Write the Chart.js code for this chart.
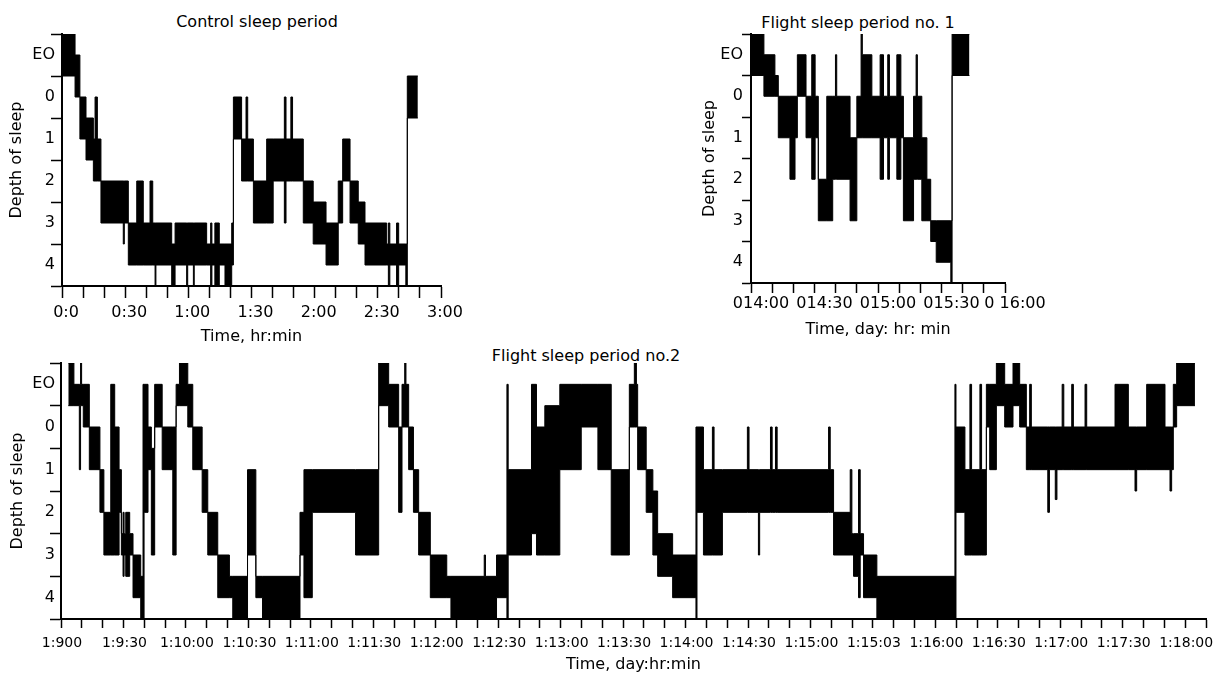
<!DOCTYPE html>
<html>
<head>
<meta charset="utf-8">
<script src="https://cdn.jsdelivr.net/npm/chart.js@4.4.1/dist/chart.umd.min.js"></script>
<style>
  html, body { margin: 0; padding: 0; background: #fff; }
  body { width: 1213px; height: 674px; position: relative; overflow: hidden; font-family: "DejaVu Sans", sans-serif; color: #000; }
  canvas { position: absolute; }
  .panel-title { position: absolute; transform: translate(-50%, -50%); font-size: 16px; white-space: nowrap; }
</style>
</head>
<body>
<div class="panel-title" style="left:257px;top:21px">Control sleep period</div>
<div class="panel-title" style="left:858px;top:22px">Flight sleep period no. 1</div>
<div class="panel-title" style="left:586px;top:355px">Flight sleep period no.2</div>

<canvas id="ctlChart" width="470" height="346" style="left:0;top:0"></canvas>
<canvas id="f1Chart" width="359" height="339" style="left:691px;top:0"></canvas>
<canvas id="f2Chart" width="1213" height="331" style="left:0;top:343px"></canvas>

<script>
/* =============================
   DATA
   time = minutes from start of the axis
   shallow / deep = the two edges of the trace (depth of sleep,
   EO = -1, half steps are the band boundaries)
============================= */
const depthLabels = ["EO", "0", "1", "2", "3", "4"];

// control sleep period
const ctlTickLabels = ["0:0", "0:30", "1:00", "1:30", "2:00", "2:30", "3:00"];
const ctlTime = [0, 6.2, 8.5, 11.4, 14.9, 15.7, 16.8, 18.5, 29.1, 29.6, 31.5, 35.5, 38.6, 41.8, 43.1, 44.2, 44.6, 52.1, 53.7, 59.2,
  59.7, 62.4, 62.8, 68.7, 70.6, 71.2, 72.6, 74.7, 77.4, 80.6, 81.4, 85.3, 87.4, 88.2, 90.9, 97.2, 100.3, 105.6, 106.4, 108.7,
  109.5, 114.6, 119.3, 125.4, 131.2, 133.3, 136.8, 140.7, 143.9, 154.2, 155, 155.7, 158.9, 159.9, 163.3, 164, 169];
const ctlShallow = [-1.5, -1, 0, 0.5, 1, 0, 1, 2, 2, 2, 3, 2, 3, 2, 3, 3, 3, 3.5, 3, 3,
  3, 3, 3, 3.5, 3, 3.5, 3, 3.5, 3.5, 3, 0, 1, 0, 1, 2, 1, 1, 0, 1, 0,
  1, 2, 2.5, 3, 2, 1, 2, 2.5, 3, 3.5, 3, 3.5, 3, 3.5, 3.5, -0.5, -0.5];
const ctlDeep = [-0.5, 0, 1, 1.5, 2, 2, 2, 3, 3.5, 3, 4, 4, 4, 4, 4, 4.5, 4, 4.5, 4, 4.5,
  4, 4.5, 4, 4, 4.5, 4, 4.5, 4, 4.5, 4, 1, 2, 2, 2, 3, 3, 2, 3, 2, 2,
  2, 3, 3.5, 4, 3, 2, 3, 3.5, 4, 4, 4.5, 4, 4.5, 4, 4.5, 0.5, 0.5];

// flight sleep period no. 1
const f1TickLabels = ["014:00", "014:30", "015:00", "015:30", "0 16:00"];
const f1Time = [0, 6.1, 11.3, 12.9, 18.4, 20.8, 21.9, 26, 28.7, 30.3, 31.8, 35.8, 38.6, 39.9, 40.5, 46.8, 50, 52, 52.6, 57.1,
  61, 62.6, 64.6, 65.4, 68.9, 70.8, 72, 76.8, 78, 78.6, 80.7, 83.1, 84.9, 87.5, 94.4, 95, 103.2];
const f1Shallow = [-1.5, -1, -0.5, 0, 0, 0, -1, 0, -1, 0, 2, 0, 0, -1, 0, 1, 0, -1.5, -1, 0,
  -1, 0, -1, 0, -1, 0, 1, 0, -1, 0, 1, 2, 3, 3, 3, -1.5, -1.5];
const f1Deep = [-0.5, 0, 0, 1, 2, 1, 0, 1, 2, 1, 3, 3, 2, 2, 2, 3, 1, 1, 1, 1,
  2, 1, 2, 1, 2, 1, 3, 2, 2, 2, 3, 3, 3.5, 4, 4.5, -0.5, -0.5];

// flight sleep period no. 2
const f2TickLabels = ["1:900", "1:9:30", "1:10:00", "1:10:30", "1:11:00", "1:11:30", "1:12:00", "1:12:30", "1:13:00", "1:13:30",
  "1:14:00", "1:14:30", "1:15:00", "1:15:03", "1:16:00", "1:16:30", "1:17:00", "1:17:30", "1:18:00"];
const f2Time = [3.5, 6.2, 8.8, 9.4, 9.9, 10.7, 13.6, 18.7, 20.6, 23.9, 25.8, 27.9, 29, 29.8, 30.3, 31.1, 33, 34.6, 38.3, 39.4,
  39.9, 41.8, 43.4, 45, 48.6, 53.7, 55.3, 56.9, 60.9, 63.3, 67.8, 70.5, 75.3, 80.9, 82.5, 89.6, 93.6, 96.8, 114.8, 116.7,
  120.7, 141.5, 152.6, 157.4, 162.2, 163.8, 165.1, 165.7, 167, 169.3, 171.8, 177.4, 185.3, 187.3, 203.3, 203.9, 209.2, 214.2, 214.8, 226,
  228.4, 232.4, 239.6, 249.9, 257.9, 264.3, 273, 275.4, 276.4, 277, 281.1, 284.3, 286.6, 293.8, 305, 305.5, 308.6, 312.9, 313.7, 317.7,
  329.7, 330.5, 335, 335.6, 340.8, 341.6, 343.2, 344, 368.7, 369.5, 371.1, 379.1, 379.9, 380.7, 383.1, 383.9, 385.5, 391.9, 429.4, 429.9,
  434.2, 436.6, 437.4, 441.4, 442.2, 444.5, 446.1, 449.3, 453.3, 457.3, 460.5, 463.7, 465.3, 466.1, 474, 474.8, 477.6, 478.4, 480.9, 481.7,
  485.5, 486.3, 491.9, 492.7, 506.3, 512.7, 515.9, 516.7, 521.5, 530.3, 532.7, 533.5, 534.3, 535.9, 544.7];
const f2Shallow = [-1.5, -1, -1, -1.5, -1, -1, 0, 1, 2, -1, 0, 1, 2.5, 2, 2.5, 2, 2.5, 3, 3.5, -1,
  -1, 0, 0.5, -1, 0, 0, -1, -1.5, -1, 0, 1, 2, 3, 3.5, 3.5, 1, 3.5, 3.5, 2, 1,
  1, 1, -1.5, -1, 0, -1, -1.5, -1, 0, 1, 2, 3, 3.5, 3.5, 3, 3.5, 3, -1, 1, -1,
  0, -0.5, -1, -1, -1, 1, -1, -1.5, -1, 0, 1, 1.5, 2.5, 3, 0, 0, 1, 0, 1, 1,
  0, 1, 1, 1, 0, 1, 0, 1, 0, 1, 2, 1, 2.5, 2.5, 1, 2.5, 3, 3.5, -1, 0,
  1, -1, 1, -1, 1, -1, -1, -1.5, -1, -1.5, -1, 0, -1, 0, 0, 0, 0, 0, -1, 0,
  -1, 0, -1, 0, -1, 0, 0, 0, -1, 0, 0, 0, -1, -1.5, -1.5];
const f2Deep = [-0.5, -0.5, 1, -0.5, -0.5, 0, 1, 2, 3, 3, 3, 2, 3, 3.5, 3, 3.5, 3, 4, 4.5, 4.5,
  2, 1, 3, 0, 1, 3, -0.5, -0.5, 0, 1, 2, 3, 4, 4, 4.5, 3, 4, 4.5, 3, 4,
  2, 3, -0.5, 0, 2, 0, 0, 0, 1, 2, 3, 4, 4, 4.5, 4.5, 4.5, 4, 4.5, 3, 2.5,
  3, 3, 1, 0, 1, 3, 0, 0, 0, 1, 2, 3, 3.5, 4, 4.5, 2, 3, 3, 3, 2,
  2, 2, 3, 2, 2, 2, 2, 2, 2, 2, 3, 3, 3, 3.5, 4, 3, 4, 4.5, 4.5, 2,
  3, 3, 3, 3, 3, 0, 1, -0.5, 0, -0.5, 0, 1, 1, 1, 2, 1, 1.7, 1, 1, 1,
  1, 1, 1, 1, 1, 1, 1.5, 1, 1, 1, 1.5, 1, 0, -0.5, -0.5];

/* =============================
   PANEL BUILDER
============================= */
const tickFont = { family: "DejaVu Sans", size: 16 };

function makePanel(id, time, shallow, deep, cfg) {
  const edge = vals => time.map((t, i) => ({ x: t, y: vals[i] }));
  const lineStyle = { stepped: true, borderColor: "#000", borderWidth: 1, pointRadius: 0 };

  return new Chart(document.getElementById(id), {
    type: "line",
    data: {
      datasets: [
        { ...lineStyle, data: edge(shallow), fill: false },
        { ...lineStyle, data: edge(deep), fill: "-1", backgroundColor: "#000" }
      ]
    },
    options: {
      responsive: false,
      animation: false,
      events: [],
      layout: { padding: { top: cfg.padTop, right: cfg.padRight, left: 0, bottom: 0 } },
      plugins: { legend: { display: false }, tooltip: { enabled: false } },
      scales: {
        x: {
          type: "linear",
          min: 0,
          max: cfg.xMax,
          afterFit: s => { s.height = cfg.xBox; },
          border: { display: true, color: "#000", width: 2 },
          grid: { drawOnChartArea: false, tickLength: cfg.xTick, tickWidth: 1.5, tickColor: "#000" },
          ticks: {
            stepSize: 10,
            autoSkip: false,
            maxRotation: 0,
            padding: cfg.xPad,
            labelOffset: cfg.labelShift,
            color: "#000",
            font: cfg.xFont || tickFont,
            callback: v => (v % 30 === 0 ? cfg.tickLabels[v / 30] : "")
          },
          title: { display: true, text: cfg.xTitle, color: "#000", font: tickFont, padding: 0 }
        },
        y: {
          type: "linear",
          reverse: true,
          min: -1.5,
          max: 4.5,
          afterFit: s => { s.width = cfg.yBox; },
          border: { display: true, color: "#000", width: 2 },
          grid: {
            drawOnChartArea: false,
            tickLength: cfg.yTick,
            tickWidth: 1.5,
            tickColor: c => (c.tick && Number.isInteger(c.tick.value) ? "rgba(0,0,0,0)" : "#000")
          },
          ticks: {
            stepSize: 0.5,
            autoSkip: false,
            padding: cfg.yPad,
            color: "#000",
            font: tickFont,
            callback: v => (Number.isInteger(v) ? depthLabels[v + 1] : "")
          },
          title: { display: true, text: "Depth of sleep", color: "#000", font: tickFont, padding: { top: cfg.yTitlePad, bottom: 0 } }
        }
      }
    }
  });
}

/* =============================
   PANELS
============================= */
makePanel("ctlChart", ctlTime, ctlShallow, ctlDeep, {
  xMax: 180, tickLabels: ctlTickLabels, xTitle: "Time, hr:min",
  padTop: 34, padRight: 29, xBox: 60, yBox: 62,
  xTick: 12, xPad: 5, labelShift: 4, yTick: 11, yPad: -4, yTitlePad: 7
});

makePanel("f1Chart", f1Time, f1Shallow, f1Deep, {
  xMax: 120, tickLabels: f1TickLabels, xTitle: "Time, day: hr: min",
  padTop: 34, padRight: 45, xBox: 56, yBox: 60,
  xTick: 10, xPad: 1, labelShift: 10, yTick: 9, yPad: -1, yTitlePad: 9
});

makePanel("f2Chart", f2Time, f2Shallow, f2Deep, {
  xMax: 550, tickLabels: f2TickLabels, xTitle: "Time, day:hr:min",
  padTop: 20, padRight: 6, xBox: 55, yBox: 61,
  xTick: 9, xPad: 7, labelShift: 1, yTick: 11, yPad: -5, yTitlePad: 8,
  xFont: { family: "DejaVu Sans", size: 14 }
});
</script>
</body>
</html>
